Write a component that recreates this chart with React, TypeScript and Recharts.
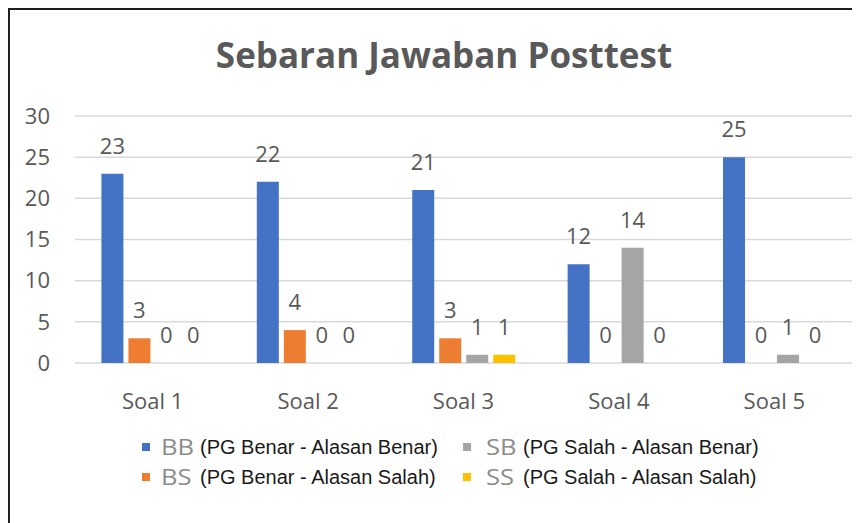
import React from 'react';
import { BarChart, Bar, XAxis, YAxis, CartesianGrid, Legend, LabelList } from 'recharts';

const categories = ['Soal 1', 'Soal 2', 'Soal 3', 'Soal 4', 'Soal 5'];
const bbValues = [23, 22, 21, 12, 25];
const bsValues = [3, 4, 3, 0, 0];
const sbValues = [0, 0, 1, 14, 1];
const ssValues = [0, 0, 1, 0, 0];
const yTicks = [0, 5, 10, 15, 20, 25, 30];

const series = [
  { key: 'bb', code: 'BB', desc: '(PG Benar - Alasan Benar)', color: '#4472C4' },
  { key: 'bs', code: 'BS', desc: '(PG Benar - Alasan Salah)', color: '#ED7D31' },
  { key: 'sb', code: 'SB', desc: '(PG Salah - Alasan Benar)', color: '#A5A5A5' },
  { key: 'ss', code: 'SS', desc: '(PG Salah - Alasan Salah)', color: '#FFC000' },
];

const data = categories.map((name, i) => ({
  name,
  bb: bbValues[i],
  bs: bsValues[i],
  sb: sbValues[i],
  ss: ssValues[i],
}));

const labelFont = '"Open Sans", sans-serif';
const textGray = '#595959';

// legend slots: square x, code x, description x and row centre inside the legend box
const legendSlots = [
  { sq: 132, code: 151, desc: 190, top: 15 },
  { sq: 132, code: 151, desc: 190, top: 45 },
  { sq: 453, code: 476, desc: 513, top: 15 },
  { sq: 453, code: 476, desc: 513, top: 45 },
];

function ExcelLegend() {
  return (
    <div style={{ position: 'relative', width: 850, height: 60 }}>
      {series.map((s, i) => {
        const slot = legendSlots[i];
        return (
          <React.Fragment key={s.key}>
            <span
              style={{
                position: 'absolute',
                left: slot.sq,
                top: slot.top - 4,
                width: 8,
                height: 8,
                background: s.color,
              }}
            />
            <span
              style={{
                position: 'absolute',
                left: slot.code,
                top: slot.top,
                transform: 'translateY(-50%) scaleX(1.22)',
                transformOrigin: 'left center',
                fontFamily: labelFont,
                fontSize: 21,
                lineHeight: '24px',
                color: '#8c8c8c',
                whiteSpace: 'nowrap',
              }}
            >
              {s.code}
            </span>
            <span
              style={{
                position: 'absolute',
                left: slot.desc,
                top: slot.top,
                transform: 'translateY(-50%)',
                fontFamily: '"Liberation Sans", Arial, sans-serif',
                fontSize: 20,
                lineHeight: '24px',
                color: '#1a1a1a',
                whiteSpace: 'nowrap',
              }}
            >
              {s.desc}
            </span>
          </React.Fragment>
        );
      })}
    </div>
  );
}

export default function App() {
  return (
    <div
      style={{
        position: 'relative',
        width: 850,
        height: 513,
        borderTop: '2px solid #1f1f1f',
        borderLeft: '2px solid #1f1f1f',
        background: '#fff',
      }}
    >
      <div
        style={{
          position: 'absolute',
          left: 434,
          top: 44,
          transform: 'translate(-50%, -50%)',
          whiteSpace: 'nowrap',
          fontFamily: labelFont,
          fontWeight: 700,
          fontSize: 35,
          color: textGray,
        }}
      >
        Sebaran Jawaban Posttest
      </div>
      <BarChart
        width={850}
        height={513}
        data={data}
        margin={{ top: 106, right: 8, left: 0, bottom: 31 }}
        barCategoryGap="17%"
        barGap={5}
      >
        <CartesianGrid vertical={false} stroke="#D9D9D9" strokeWidth={1.5} />
        <XAxis
          dataKey="name"
          height={69}
          axisLine={false}
          tickLine={false}
          tickMargin={24}
          tick={{ fill: textGray, fontSize: 22, fontFamily: labelFont }}
        />
        <YAxis
          width={65}
          domain={[0, 30]}
          ticks={yTicks}
          axisLine={false}
          tickLine={false}
          tickMargin={19}
          tick={{ fill: textGray, fontSize: 22, fontFamily: labelFont }}
        />
        <Legend
          verticalAlign="bottom"
          content={() => <ExcelLegend />}
          wrapperStyle={{ left: 0, width: 850, height: 60 }}
        />
        {series.map((s) => (
          <Bar key={s.key} dataKey={s.key} fill={s.color} minPointSize={0.01} isAnimationActive={false}>
            <LabelList
              dataKey={s.key}
              position="top"
              offset={20}
              fill={textGray}
              fontSize={22}
              fontFamily={labelFont}
            />
          </Bar>
        ))}
      </BarChart>
    </div>
  );
}
